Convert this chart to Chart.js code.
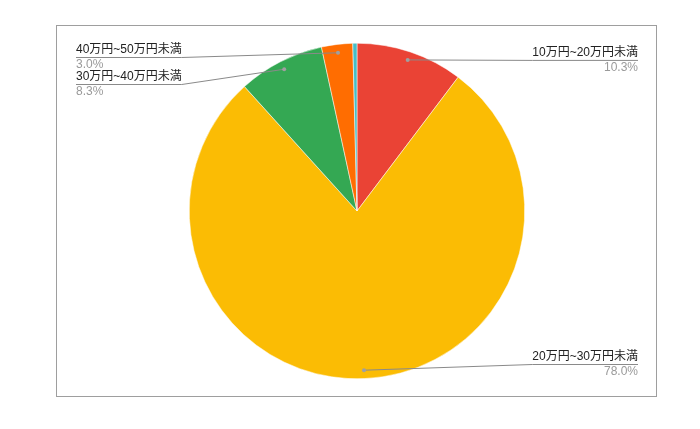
<!DOCTYPE html>
<html>
<head>
<meta charset="utf-8">
<script src="https://cdn.jsdelivr.net/npm/chart.js@4"></script>
<style>
  body { margin: 0; background: #fff; }
  canvas { display: block; }
</style>
</head>
<body>
<canvas id="chart" width="700" height="429"></canvas>
<script>
const categories = [
  "10万円~20万円未満",
  "20万円~30万円未満",
  "30万円~40万円未満",
  "40万円~50万円未満",
  "50万円以上",
];
const shares = [10.3, 78.0, 8.3, 3.0, 0.4];
const sliceColors = ["#ea4335", "#fbbc04", "#34a853", "#ff6d01", "#46bdc6"];

const FONT = "12px 'Liberation Sans', Arial, 'Noto Sans CJK JP', sans-serif";

// gray frame round the chart
const framePlugin = {
  id: "frame",
  beforeDraw(chart) {
    const c = chart.ctx;
    c.save();
    c.fillStyle = "#fff";
    c.fillRect(0, 0, chart.width, chart.height);
    c.strokeStyle = "#9e9e9e";
    c.lineWidth = 1;
    c.strokeRect(56.5, 25.5, 600, 371);
    c.restore();
  },
};

// leader lines + two-line labels like the spreadsheet pie
const leaderPlugin = {
  id: "leaders",
  afterDraw(chart) {
    const c = chart.ctx;
    const meta = chart.getDatasetMeta(0);
    const values = chart.data.datasets[0].data;
    const total = values.reduce((a, b) => a + b, 0);
    const items = [];
    meta.data.forEach((arc, i) => {
      const pct = values[i] / total * 100;
      if (pct < 1) return;
      const p = arc.getProps(["x", "y", "startAngle", "endAngle", "outerRadius"], true);
      const mid = (p.startAngle + p.endAngle) / 2;
      const r = p.outerRadius * 0.95;
      const dx = p.x + Math.cos(mid) * r;
      const dy = p.y + Math.sin(mid) * r;
      items.push({
        name: chart.data.labels[i],
        pct: pct.toFixed(1) + "%",
        dx, dy,
        right: dx >= p.x,
        y: dy,
      });
    });

    const minY = 57, maxY = 364, gap = 27;
    [true, false].forEach((side) => {
      const list = items.filter((it) => it.right === side).sort((a, b) => a.dy - b.dy);
      let prev = -Infinity;
      list.forEach((it) => {
        it.y = Math.min(maxY, Math.max(minY, it.dy, prev + gap));
        prev = it.y;
      });
    });

    c.save();
    c.font = FONT;
    items.forEach((it) => {
      const w = c.measureText(it.name).width;
      let x0, x1, inner;
      if (it.right) {
        x1 = 638; x0 = x1 - w; inner = x0;
      } else {
        x0 = 76; x1 = x0 + w; inner = x1;
      }
      c.strokeStyle = "#8a8a8a";
      c.lineWidth = 1;
      c.beginPath();
      c.moveTo(it.dx, it.dy);
      c.lineTo(inner, it.y + 0.5);
      c.moveTo(x0, it.y + 0.5);
      c.lineTo(x1, it.y + 0.5);
      c.stroke();

      c.fillStyle = "#a0a0a0";
      c.beginPath();
      c.arc(it.dx, it.dy, 2, 0, Math.PI * 2);
      c.fill();

      c.textAlign = it.right ? "right" : "left";
      c.textBaseline = "alphabetic";
      const tx = it.right ? x1 : x0;
      c.fillStyle = "#222222";
      c.fillText(it.name, tx, it.y - 4);
      c.fillStyle = "#9a9a9a";
      c.fillText(it.pct, tx, it.y + 11);
    });
    c.restore();
  },
};

const ctx = document.getElementById("chart").getContext("2d");
const chart = new Chart(ctx, {
  type: "pie",
  data: {
    labels: categories,
    datasets: [
      {
        data: shares,
        backgroundColor: sliceColors,
        borderColor: "#ffffff",
        borderWidth: 0.5,
      },
    ],
  },
  options: {
    responsive: false,
    animation: false,
    devicePixelRatio: 1,
    layout: {
      padding: { left: 189, right: 175, top: 43, bottom: 50 },
    },
    plugins: {
      legend: { display: false },
      tooltip: { enabled: false },
    },
  },
  plugins: [framePlugin, leaderPlugin],
});
</script>
</body>
</html>
